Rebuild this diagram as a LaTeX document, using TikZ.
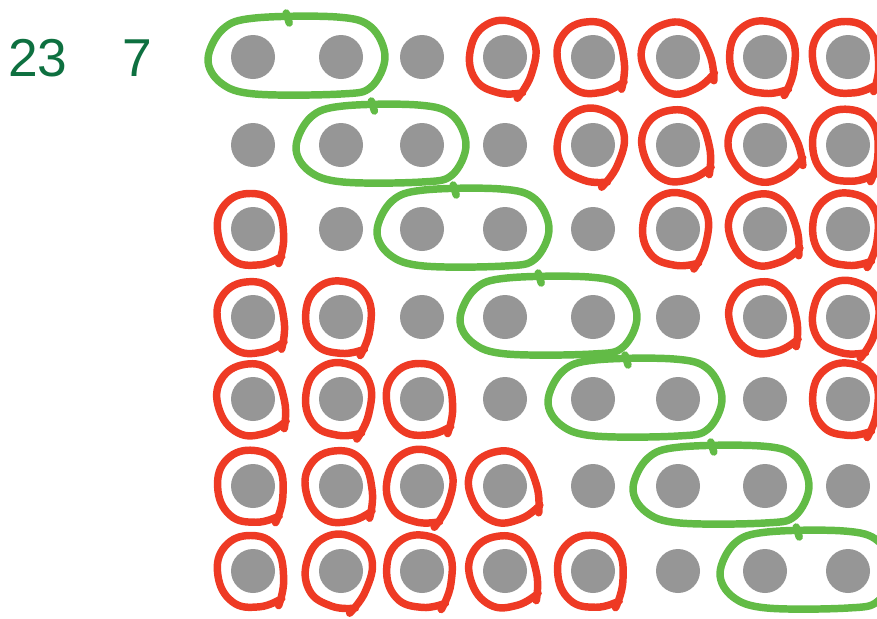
\documentclass[tikz,border=0pt]{standalone}
\usepackage{fontspec}
\setmainfont{Liberation Sans}
\definecolor{dotgray}{HTML}{969696}
\definecolor{redc}{HTML}{EE3A24}
\definecolor{greenc}{HTML}{62BB46}
\definecolor{textgreen}{HTML}{0E7040}
\tikzset{
  dotnode/.style={circle, fill=dotgray, draw=none, minimum size=33pt, inner sep=0pt},
  redl/.style={draw=redc, line width=5.6pt, line cap=round, line join=round},
  greenl/.style={draw=greenc, line width=5.6pt, line cap=round, line join=round},
  numtext/.style={text=textgreen, font=\fontsize{40}{40}\selectfont, inner sep=0pt}
}
% red hand-drawn ring around a dot: #1 node, #2 rotation
\newcommand\redring[2]{%
  \draw[redl, shift={(#1.center)}, rotate=#2, scale=1.07] plot[smooth, tension=0.75] coordinates
   {(18,36) (27,12) (25,-18) (4,-33) (-22,-27) (-33,-2) (-24,25) (0,34) (22,30)};}
% green loop around two dots: #1 left node, #2 right node
\newcommand\greenloop[2]{%
  \draw[greenl] plot[smooth cycle, tension=0.6] coordinates
   {($(#1.center)+(-45,2)$) ($(#1.center)+(-30,-28)$) ($(#1.center)+(2,-39)$)
    ($(#2.center)+(-4,-40)$) ($(#2.center)+(30,-30)$) ($(#2.center)+(44,0)$)
    ($(#2.center)+(30,30)$) ($(#2.center)+(0,37)$) ($(#1.center)+(2,37)$)
    ($(#1.center)+(-32,26)$)};
  \draw[greenl] ($(#1.center)!0.4!(#2.center)+(-2,-44)$) -- ++(3,10);}
\usetikzlibrary{calc}
\begin{document}
\begin{tikzpicture}[x=0.75pt, y=-0.75pt]
\useasboundingbox (0,0) rectangle (877,618);
\node[numtext] (t23) at (38,58) {23};
\node[numtext] (t7) at (137,58) {7};
% dots
\foreach \r/\y in {1/57,2/145,3/229,4/317,5/399,6/486,7/571}{
  \foreach \c/\x in {1/253,2/341,3/422,4/505,5/593,6/678,7/765,8/848}{
    \node[dotnode] (d\r\c) at (\x,\y) {};
  }
}
% green loops
\greenloop{d11}{d12}
\greenloop{d22}{d23}
\greenloop{d33}{d34}
\greenloop{d44}{d45}
\greenloop{d55}{d56}
\greenloop{d66}{d67}
\greenloop{d77}{d78}
% red rings
\redring{d14}{-10} \redring{d15}{15} \redring{d16}{30} \redring{d17}{0} \redring{d18}{10}
\redring{d25}{-15} \redring{d26}{20} \redring{d27}{35} \redring{d28}{5}
\redring{d31}{10} \redring{d36}{-5} \redring{d37}{25} \redring{d38}{0}
\redring{d41}{15} \redring{d42}{0} \redring{d47}{20} \redring{d48}{-10}
\redring{d51}{20} \redring{d52}{-5} \redring{d53}{10} \redring{d58}{0}
\redring{d61}{5} \redring{d62}{15} \redring{d63}{-10} \redring{d64}{25}
\redring{d71}{10} \redring{d72}{-15} \redring{d73}{0} \redring{d74}{20} \redring{d75}{5}
\end{tikzpicture}
\end{document}
